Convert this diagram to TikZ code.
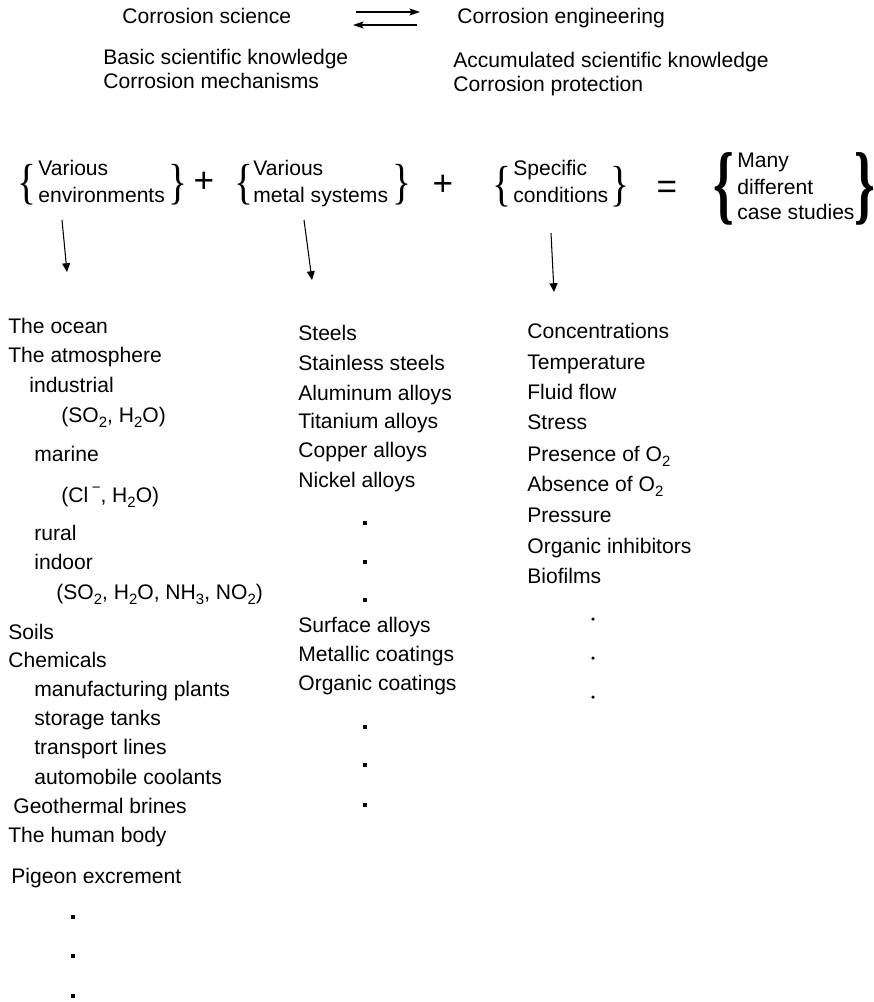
\documentclass[tikz,border=0pt]{standalone}
\usepackage{graphicx}
\usepackage{fontspec}
\setmainfont{Liberation Sans}
\newfontfamily\bracefont{Liberation Serif}
\usetikzlibrary{arrows.meta, positioning}

\newcommand{\chemsub}[1]{\raisebox{-0.5ex}{\fontsize{8.5}{8.5}\selectfont #1}}
\newcommand{\supminus}{\raisebox{0.85ex}{\fontsize{8.5}{8.5}\selectfont\char"2212}}

\tikzset{
  item/.style={anchor=base west, inner sep=0pt, font=\fontsize{12}{14}\selectfont},
  brc/.style={inner sep=0pt, font=\bracefont\fontsize{28}{28}\selectfont},
  bigbrc/.style={inner sep=0pt, font=\bracefont\bfseries\fontsize{50}{50}\selectfont},
  op/.style={inner sep=0pt, font=\fontsize{20}{20}\selectfont},
  flow/.style={line width=0.6pt, -{Triangle[length=5pt, width=4.5pt]}},
  swap/.style={line width=0.6pt, -{Stealth[length=6pt, width=4pt, inset=1.2pt]}}
}

\begin{document}
\begin{tikzpicture}[x=0.02cm, y=-0.02cm]
\useasboundingbox (0,0) rectangle (874,1002);
% science and engineering
\node[item] (sci) at (122,23) {Corrosion science};
\node[item] (eng) at (457,23) {Corrosion engineering};
\node[item] (basic) at (103,64) {Basic scientific knowledge};
\node[item] (mech) at (103,88) {Corrosion mechanisms};
\node[item] (accum) at (453,67) {Accumulated scientific knowledge};
\node[item] (prot) at (453,91) {Corrosion protection};
\coordinate (fwdA) at (356,12);
\coordinate (fwdB) at (420,12);
\coordinate (bwdA) at (417,25);
\coordinate (bwdB) at (353,25);
\draw[swap] (fwdA) -- (fwdB);
\draw[swap] (bwdA) -- (bwdB);

% the sum of braces
\node[brc] (envL) at (27,185) {\scalebox{0.8}[1]{\{}};
\node[item] (envA) at (38,175) {Various};
\node[item] (envB) at (38,202) {environments};
\node[brc] (envR) at (178,185) {\scalebox{0.8}[1]{\}}};
\node[op] (plusA) at (204,182) {+};
\node[brc] (metL) at (244,185) {\scalebox{0.8}[1]{\{}};
\node[item] (metA) at (253,175) {Various};
\node[item] (metB) at (253,202) {metal systems};
\node[brc] (metR) at (402,185) {\scalebox{0.8}[1]{\}}};
\node[op] (plusB) at (443,185) {+};
\node[brc] (conL) at (502,187) {\scalebox{0.8}[1]{\{}};
\node[item] (conA) at (513,175) {Specific};
\node[item] (conB) at (513,202) {conditions};
\node[brc] (conR) at (620,187) {\scalebox{0.8}[1]{\}}};
\node[op] (eq) at (667,190) {=};
\node[bigbrc] (caseL) at (724,189) {\scalebox{0.6}[1]{\{}};
\node[item] (caseA) at (737,167) {Many};
\node[item] (caseB) at (737,194) {different};
\node[item] (caseC) at (737,219) {case studies};
\node[bigbrc] (caseR) at (865,189) {\scalebox{0.6}[1]{\}}};

% down arrows
\coordinate (envtail) at (62,220);
\coordinate (envhead) at (67,272);
\coordinate (mettail) at (304,220);
\coordinate (methead) at (312,280);
\coordinate (contail) at (551,233);
\coordinate (conhead) at (554,292);
\draw[flow] (envtail) -- (envhead);
\draw[flow] (mettail) -- (methead);
\draw[flow] (contail) -- (conhead);

% environments
\foreach \x/\y/\t [count=\i] in {8/333/The ocean, 8/362/The atmosphere, 29/392/industrial,
    61/422/{(SO\chemsub{2}, H\chemsub{2}O)}, 34/461/marine,
    61/502/{(Cl\,\supminus, H\chemsub{2}O)}, 34/540/rural, 34/569/indoor,
    56/599/{(SO\chemsub{2}, H\chemsub{2}O, NH\chemsub{3}, NO\chemsub{2})},
    8/639/Soils, 8/667/Chemicals, 34/696/manufacturing plants, 34/725/storage tanks,
    34/754/transport lines, 34/784/automobile coolants, 13/813/Geothermal brines,
    8/842/The human body, 11/883/Pigeon excrement}
  \node[item] (env-\i) at (\x,\y) {\t};
\foreach \y in {917,956,996}
  \fill (73,\y) ++(-1.1pt,-1.1pt) rectangle ++(2.2pt,2.2pt);

% metal systems
\foreach \y/\t [count=\i] in {340/Steels, 370/Stainless steels, 400/Aluminum alloys,
    428/Titanium alloys, 457/Copper alloys, 487/Nickel alloys, 632/Surface alloys,
    661/Metallic coatings, 690/Organic coatings}
  \node[item] (met-\i) at (298,\y) {\t};
\foreach \y in {523,562,600,727,765,805}
  \fill (365,\y) ++(-1.1pt,-1.1pt) rectangle ++(2.2pt,2.2pt);

% conditions
\foreach \y/\t [count=\i] in {338/Concentrations, 369/Temperature, 399/Fluid flow,
    429/Stress, 461/Presence of O\chemsub{2}, 491/Absence of O\chemsub{2},
    522/Pressure, 553/Organic inhibitors, 583/Biofilms}
  \node[item] (con-\i) at (527,\y) {\t};
\foreach \y in {619,658,697}
  \fill (593,\y) circle (1pt);
\end{tikzpicture}
\end{document}
